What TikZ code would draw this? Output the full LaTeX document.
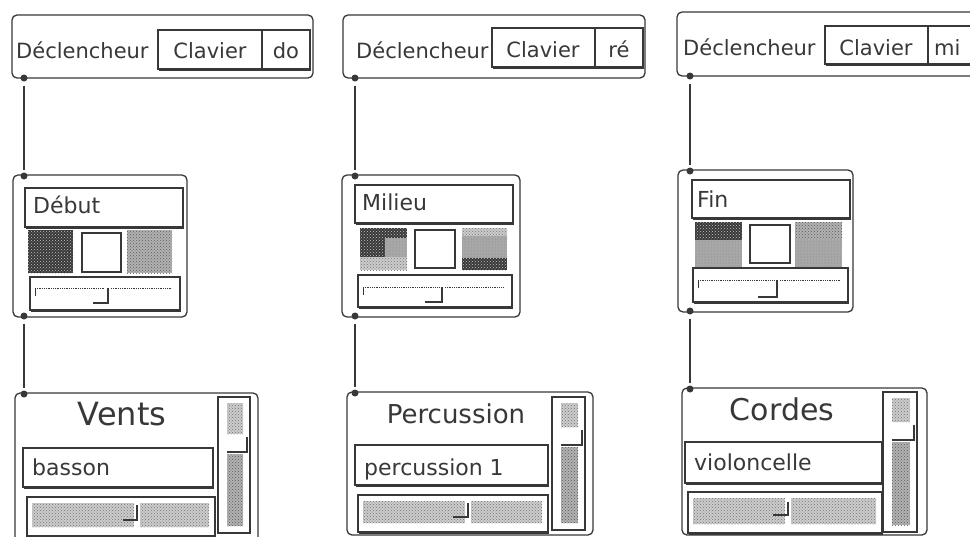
\documentclass[tikz,border=0pt]{standalone}
\usepackage{fontspec}
\setmainfont{DejaVu Sans}
\usetikzlibrary{patterns,shadows,calc}
\definecolor{ink}{gray}{0.22}
\tikzset{
  panel/.style={draw=ink, line width=1.3, rounded corners=5, fill=white, anchor=north west, inner sep=0, outer sep=0},
  field/.style={draw=ink, line width=1.2, fill=white, anchor=north west, inner sep=0, outer sep=0,
                general shadow={fill=ink, shadow xshift=1.2pt, shadow yshift=-2pt}},
  plainbox/.style={draw=ink, line width=1.2, fill=white, anchor=north west, inner sep=0, outer sep=0},
  port/.style={circle, fill=ink, inner sep=0, minimum size=7},
  conn/.style={draw=ink, line width=1.3, shorten <=4, shorten >=2},
  txt/.style={text=ink, inner sep=0, font=\fontsize{21}{21}\selectfont},
  fieldtxt/.style={text=ink, inner sep=0, font=\fontsize{22}{22}\selectfont},
  bigtxt/.style={text=ink, inner sep=0, font=\fontsize{#1}{#1}\selectfont},
  texdark/.style={preaction={fill=black!78}, pattern=crosshatch dots, pattern color=gray!45},
  texmid/.style={preaction={fill=gray!60}, pattern=crosshatch dots, pattern color=black!65},
  texgray/.style={preaction={fill=gray!68}, pattern=dots, pattern color=black!50},
  texlight/.style={preaction={fill=gray!40}, pattern=crosshatch dots, pattern color=black!55},
  thumb/.style={draw=ink, line width=1.6},
}
\newcommand\bx[6]{\node[#1, minimum width={#5-#3}, minimum height={#6-#4}] (#2) at (#3,#4) {};}
% mid slider: name x1 y1 x2 y2 thumbx tracky bottomy segx
\newcommand\mslider[9]{%
  \bx{field}{#1}{#2}{#3}{#4}{#5}
  \draw[ink, densely dotted, line width=0.8] ({#2+5},{#7}) -- ({#6-3},{#7});
  \draw[ink, densely dotted, line width=0.8] ({#6+3},{#7}) -- ({#4-8},{#7});
  \draw[ink, line width=1] ({#2+5},{#7}) -- ({#2+5},{#7+8});
  \draw[thumb] ({#9},{#8}) -- ({#6},{#8}) -- ({#6},{#7});
}
% bottom slider
\newcommand\bslider[9]{%
  \bx{field}{#1}{#2}{#3}{#4}{#5}
  \path[texlight] ({#2+5},{#3+6}) rectangle ({#6-3},{#5-9});
  \path[texlight] ({#6+3},{#3+6}) rectangle ({#4-6},{#5-9});
  \draw[thumb] ({#9},{#8}) -- ({#6},{#8}) -- ({#6},{#7});
}
% scrollbar: name x1 y1 x2 y2 stepy
\newcommand\scrollbar[6]{%
  \bx{plainbox}{#1}{#2}{#3}{#4}{#5}
  \path[texlight] ({#2+9},{#3+6}) rectangle ({#4-7},{#6-18});
  \path[texmid] ({#2+9},{#6+2}) rectangle ({#4-7},{#5-7});
  \draw[thumb] ({#2+9},{#6}) -- ({#4-3},{#6}) -- ({#4-3},{#6-15});
}
\begin{document}
\begin{tikzpicture}[x=1pt, y=-1pt]
\useasboundingbox (0,0) rectangle (970,536);
\fill[white] (0,0) rectangle (970,536);
\clip (0,0) rectangle (970,536);

% ---------------- top row ----------------
\bx{panel}{t1}{12}{15}{313}{78}
\node[txt, anchor=base west] (t1l) at (16,58) {Déclencheur};
\bx{field}{t1k}{158}{30}{262}{69}
\bx{field}{t1n}{262}{30}{310}{69}
\node[txt, anchor=base] (t1kt) at (210,58) {Clavier};
\node[txt, anchor=base] (t1nt) at (286,58) {do};

\bx{panel}{t2}{343}{15}{645}{78}
\node[txt, anchor=base west] (t2l) at (356,58) {Déclencheur};
\bx{field}{t2k}{492}{28}{595}{67}
\bx{field}{t2n}{595}{28}{643}{67}
\node[txt, anchor=base] (t2kt) at (543,57) {Clavier};
\node[txt, anchor=base] (t2nt) at (619,57) {ré};

\bx{panel}{t3}{677}{12}{1000}{76}
\node[txt, anchor=base west] (t3l) at (683,55) {Déclencheur};
\bx{field}{t3k}{825}{26}{928}{64}
\bx{field}{t3n}{928}{26}{995}{64}
\node[txt, anchor=base] (t3kt) at (876,55) {Clavier};
\node[txt, anchor=base west] (t3nt) at (934,55) {mi};

% ---------------- middle row ----------------
\bx{panel}{m1}{13}{175}{187}{317}
\bx{field}{m1f}{25}{188}{183}{227}
\node[fieldtxt, anchor=base west] (m1t) at (33,213) {Début};
\path[texdark] (28,230) rectangle (73,273);
\bx{plainbox}{m1w}{82}{233}{121}{272}
\path[texmid] (127,230) rectangle (172,273);
\mslider{m1s}{30}{277}{180}{310}{108}{288}{303}{93}

\bx{panel}{m2}{342}{175}{520}{317}
\bx{field}{m2f}{355}{185}{513}{223}
\node[fieldtxt, anchor=base west] (m2t) at (362,210) {Milieu};
\path[texdark] (360,228) rectangle (407,270);
\path[texgray] (385,238) rectangle (407,257);
\path[texlight] (360,257) rectangle (407,270);
\bx{plainbox}{m2w}{415}{230}{455}{268}
\path[texlight] (462,228) rectangle (507,236);
\path[texgray] (462,236) rectangle (507,258);
\path[texdark] (462,258) rectangle (507,270);
\mslider{m2s}{358}{275}{512}{307}{442}{287}{302}{425}

\bx{panel}{m3}{678}{170}{853}{312}
\bx{field}{m3f}{692}{180}{850}{218}
\node[fieldtxt, anchor=base west] (m3t) at (697,207) {Fin};
\path[texdark] (695,222) rectangle (742,240);
\path[texgray] (695,240) rectangle (742,267);
\bx{plainbox}{m3w}{750}{225}{790}{263}
\path[texmid] (795,222) rectangle (842,240);
\path[texgray] (795,240) rectangle (842,267);
\mslider{m3s}{693}{268}{848}{302}{777}{280}{297}{758}

% ---------------- bottom row ----------------
\bx{panel}{b1}{15}{393}{258}{545}
\node[bigtxt=32, anchor=base] (b1t) at (122,425) {Vents};
\bx{field}{b1f}{23}{448}{213}{487}
\node[fieldtxt, anchor=base west] (b1ft) at (32,475) {basson};
\bslider{b1s}{27}{497}{215}{536}{137}{505}{520}{123}
\scrollbar{b1b}{218}{397}{250}{533}{452}

\bx{panel}{b2}{347}{392}{593}{535}
\node[bigtxt=26, anchor=base] (b2t) at (456,423) {Percussion};
\bx{field}{b2f}{355}{445}{548}{485}
\node[fieldtxt, anchor=base west] (b2ft) at (364,475) {percussion 1};
\bslider{b2s}{358}{495}{548}{532}{468}{503}{517}{453}
\scrollbar{b2b}{552}{397}{585}{530}{445}

\bx{panel}{b3}{682}{388}{927}{535}
\node[bigtxt=30, anchor=base] (b3t) at (782,420) {Cordes};
\bx{field}{b3f}{685}{442}{882}{483}
\node[fieldtxt, anchor=base west] (b3ft) at (694,470) {violoncelle};
\bslider{b3s}{688}{492}{882}{533}{788}{502}{515}{773}
\scrollbar{b3b}{883}{392}{917}{532}{440}

% ---------------- ports and connectors ----------------
\node[port] (t1o) at (24,78) {};
\node[port] (m1i) at (24,176) {};
\node[port] (m1o) at (24,316) {};
\node[port] (b1i) at (24,394) {};
\node[port] (t2o) at (355,78) {};
\node[port] (m2i) at (355,176) {};
\node[port] (m2o) at (355,316) {};
\node[port] (b2i) at (355,393) {};
\node[port] (t3o) at (690,76) {};
\node[port] (m3i) at (690,171) {};
\node[port] (m3o) at (690,311) {};
\node[port] (b3i) at (690,389) {};

\draw[conn] (t1o) -- (m1i);
\draw[conn] (m1o) -- (b1i);
\draw[conn] (t2o) -- (m2i);
\draw[conn] (m2o) -- (b2i);
\draw[conn] (t3o) -- (m3i);
\draw[conn] (m3o) -- (b3i);
\end{tikzpicture}
\end{document}
